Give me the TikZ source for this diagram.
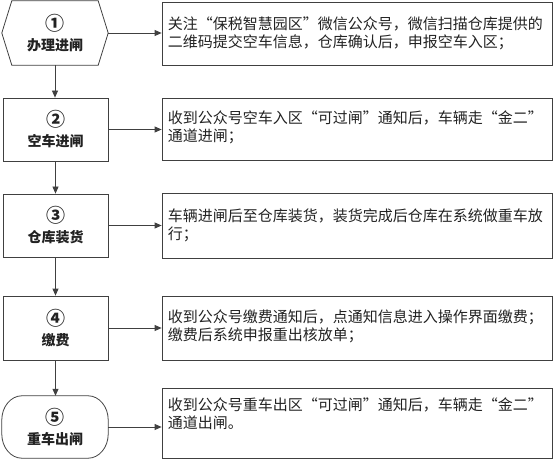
\documentclass[tikz,border=0pt]{standalone}
\usepackage{fontspec}
\setmainfont{Noto Sans CJK SC}
\usetikzlibrary{arrows.meta,calc}
\definecolor{linec}{HTML}{404040}
\definecolor{txtc}{HTML}{222222}
\newcommand{\cnum}[1]{{\fontsize{19}{20}\selectfont #1}}
\begin{document}
\begin{tikzpicture}[x=1pt,y=-1pt,
  lbl/.style={minimum width=106pt,minimum height=63pt,inner sep=0pt,align=center,text=txtc,font=\bfseries\fontsize{14}{20}\selectfont},
  sbox/.style={lbl,draw=linec,line width=0.8pt},
  tbox/.style={draw=linec,line width=0.8pt,minimum width=390pt,minimum height=63pt,inner sep=0pt},
  ttext/.style={anchor=west,align=left,text=txtc,font=\fontsize{15}{18}\selectfont,text width=384pt,inner sep=0pt},
  arr/.style={draw=linec,line width=0.8pt,-{Triangle[length=7pt,width=6pt]}},
  outl/.style={draw=linec,line width=0.8pt}]
\useasboundingbox (0,0) rectangle (556,462);

% left column
\node[lbl,minimum height=64pt] (s1) at (55,33) {\cnum{①}\\办理进闸};
\draw[outl] ([xshift=10pt]s1.north west) -- ([xshift=-10pt]s1.north east) -- (s1.east)
  -- ([xshift=-10pt]s1.south east) -- ([xshift=10pt]s1.south west) -- (s1.west) -- cycle;
\node[sbox,minimum width=105pt] (s2) at (55.5,129.5) {\cnum{②}\\空车进闸};
\node[sbox,minimum width=105pt] (s3) at (55.5,225.5) {\cnum{③}\\仓库装货};
\node[sbox,minimum width=105pt,minimum height=64pt] (s4) at (55.5,328) {\cnum{④}\\缴费};
\node[lbl,minimum height=62pt] (s5) at (55,427) {\cnum{⑤}\\重车出闸};
\draw[outl] ($(s5.north west)+(20,0)$) -- ($(s5.north east)+(-20,0)$)
  .. controls ($(s5.north east)+(-9,0)$) and ($(s5.north east)+(0,11)$) .. ($(s5.north east)+(0,24)$)
  -- ($(s5.south east)+(0,-24)$)
  .. controls ($(s5.south east)+(0,-11)$) and ($(s5.south east)+(-9,0)$) .. ($(s5.south east)+(-20,0)$)
  -- ($(s5.south west)+(20,0)$)
  .. controls ($(s5.south west)+(9,0)$) and ($(s5.south west)+(0,-11)$) .. ($(s5.south west)+(0,-24)$)
  -- ($(s5.north west)+(0,24)$)
  .. controls ($(s5.north west)+(0,11)$) and ($(s5.north west)+(9,0)$) .. cycle;

% right column
\node[tbox] (t1) at (357,33.5) {};
\node[ttext] (x1) at ([xshift=6pt]t1.west) {关注“保税智慧园区”微信公众号，微信扫描仓库提供的\\二维码提交空车信息，仓库确认后，申报空车入区；};
\node[tbox,minimum height=62pt] (t2) at (357,129) {};
\node[ttext] (x2) at ([xshift=6pt,yshift=1.5pt]t2.west) {收到公众号空车入区“可过闸”通知后，车辆走“金二”\\通道进闸；};
\node[tbox,minimum height=65pt] (t3) at (357,225.5) {};
\node[ttext] (x3) at ([xshift=6pt]t3.west) {车辆进闸后至仓库装货，装货完成后仓库在系统做重车放\\行；};
\node[tbox,minimum height=64pt] (t4) at (357,328) {};
\node[ttext] (x4) at ([xshift=6pt,yshift=2pt]t4.west) {收到公众号缴费通知后，点通知信息进入操作界面缴费；\\缴费后系统申报重出核放单；};
\node[tbox,minimum height=70pt] (t5) at (357,423) {};
\node[ttext] (x5) at ([xshift=6pt,yshift=9pt]t5.west) {收到公众号重车出区“可过闸”通知后，车辆走“金二”\\通道出闸。};

% connectors
\draw[arr] (s1.east) -- (s1.east -| t1.west);
\draw[arr] (s2.east) -- (s2.east -| t2.west);
\draw[arr] (s3.east) -- (s3.east -| t3.west);
\draw[arr] (s4.east) -- (s4.east -| t4.west);
\draw[arr] (s5.east) -- (s5.east -| t5.west);
\draw[arr] (s1.south) -- (s1.south |- s2.north);
\draw[arr] (s2.south) -- (s2.south |- s3.north);
\draw[arr] (s3.south) -- (s3.south |- s4.north);
\draw[arr] (s4.south) -- (s4.south |- s5.north);
\end{tikzpicture}
\end{document}
